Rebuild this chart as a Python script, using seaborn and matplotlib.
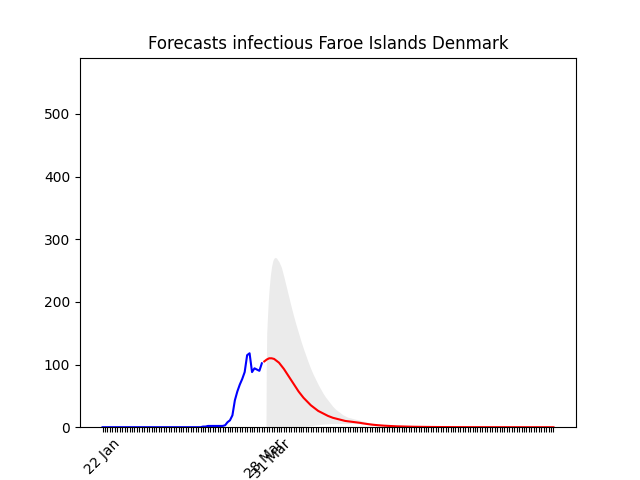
import numpy as np
import pandas as pd
import matplotlib
matplotlib.use("Agg")
import matplotlib.pyplot as plt
import seaborn as sns

# observed infectious counts, one per day from 22 Jan 2020
observed = [0, 0, 0, 0, 0, 0, 0, 0, 0, 0,
            0, 0, 0, 0, 0, 0, 0, 0, 0, 0,
            0, 0, 0, 0, 0, 0, 0, 0, 0, 0,
            0, 0, 0, 0, 0, 0, 0, 0, 0, 0,
            0, 1, 1, 2, 2, 2, 2, 2, 2, 2,
            3, 8, 11, 19, 43, 57, 68, 77, 88, 115,
            118, 88, 94, 92, 90, 102]

# forecast mean, one per day from 28 Mar
forecast = [105, 108, 110, 110, 109, 106, 103, 98, 93, 87,
            81, 75, 69, 63, 57, 52, 47, 43, 39, 35,
            32, 29, 26, 24, 22, 20, 18, 16.5, 15, 14,
            13, 12, 11, 10, 9.5, 9, 8.5, 8, 7.5, 7,
            6.3, 5.7, 5.1, 4.6, 4.1, 3.7, 3.3, 3.0, 2.7, 2.4,
            2.2, 2.0, 1.8, 1.6, 1.4, 1.3, 1.2, 1.1, 1.0, 0.9,
            0.8, 0.7, 0.65, 0.6, 0.55, 0.5, 0.45, 0.4, 0.37, 0.34,
            0.31, 0.28, 0.25, 0.23, 0.21, 0.19, 0.17, 0.15, 0.14, 0.13,
            0.12, 0.11, 0.1, 0.09, 0.08, 0.07, 0.06, 0.06, 0.05, 0.05,
            0.04, 0.04, 0.03, 0.03, 0.03, 0.02, 0.02, 0.02, 0.02, 0.01,
            0.01, 0.01, 0.01, 0.01, 0.01, 0.01, 0.0, 0.0, 0.0, 0.0,
            0.0, 0.0, 0.0, 0.0, 0.0, 0.0, 0.0, 0.0, 0.0]

# uncertainty band: finer steps at the start, then daily (days since 22 Jan)
band_time_early = [66.7, 66.8, 67.0, 67.3, 67.6, 68.0, 68.5, 69.0, 69.5, 70.0, 70.5]
band_upper = [0, 90, 150, 176, 200, 222, 243, 257, 266, 270, 271,
              270, 264, 255, 240, 224, 208,
              192, 177, 163, 150, 137, 125, 114, 103, 93, 84,
              76, 68, 61, 54, 48, 43, 38, 33, 29, 26,
              23, 20, 18, 16, 15, 14, 13, 12, 11, 10,
              9, 8, 7, 6.3, 5.6, 5.0, 4.5, 4.0, 3.6, 3.2,
              2.9, 2.6, 2.3, 2.1, 1.9, 1.7, 1.5, 1.4, 1.3, 1.2,
              1.1, 1.0, 0.9, 0.8]
band_lower = [0, 0, 0, 0, 0, 0, 0, 0, 0, 0, 0,
              0, 0, 0, 0, 0, 0,
              0, 0, 0, 0, 0.5, 1, 1.5, 2, 2.5, 3,
              3.5, 4, 4.5, 5, 5.3, 5.5, 5.8, 6, 6, 6,
              6, 6, 6, 6, 6, 6, 6, 5.8, 5.5, 5.2,
              4.8, 4.4, 4.0, 3.6, 3.3, 3.0, 2.7, 2.4, 2.2, 2.0,
              1.8, 1.6, 1.5, 1.3, 1.2, 1.1, 1.0, 0.9, 0.8, 0.7,
              0.6, 0.55, 0.5, 0.45]

start_date = "2020-01-22"
labelled_dates = ["2020-01-22", "2020-03-28", "2020-03-31"]

n_obs = len(observed)
n_days = n_obs + len(forecast)
dates = pd.date_range(start_date, periods=n_days, freq="D")
days = np.arange(n_days)
obs_days = days[:n_obs]
fc_days = days[n_obs:]
n_daily = len(band_upper) - len(band_time_early)
band_days = np.concatenate([band_time_early, np.arange(71, 71 + n_daily)])

fig, ax = plt.subplots(figsize=(6.4, 4.8), dpi=100)

ax.fill_between(band_days, band_lower, band_upper, color="#ebebeb", linewidth=0)
sns.lineplot(x=obs_days, y=observed, color="b", linewidth=1.5, ax=ax)
sns.lineplot(x=fc_days, y=forecast, color="r", linewidth=1.5, ax=ax)

labelled = set(pd.to_datetime(labelled_dates))
tick_labels = [d.strftime("%d %b") if d in labelled else "" for d in dates]
ax.set_xticks(days)
ax.set_xticklabels(tick_labels, rotation=45)
ax.set_xlim(-0.05 * (n_days - 1), 1.05 * (n_days - 1))
ax.set_ylim(0, 590)
ax.set_title("Forecasts infectious Faroe Islands Denmark")

fig.savefig("out.png", dpi=100)
